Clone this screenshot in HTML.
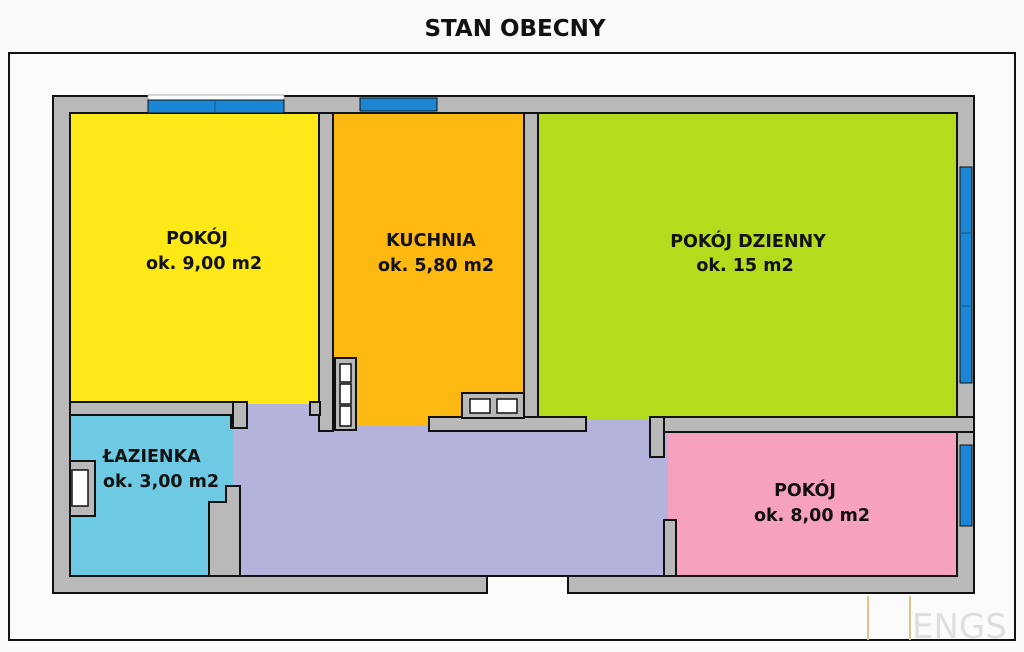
<!DOCTYPE html>
<html><head><meta charset="utf-8"><style>
html,body{margin:0;padding:0;background:#fafafa;width:1024px;height:652px;overflow:hidden}
svg{display:block}
text{font-family:"DejaVu Sans","Liberation Sans",sans-serif;font-weight:bold;fill:#111}
</style></head><body>
<svg width="1024" height="652" viewBox="0 0 1024 652">
<rect x="0" y="0" width="1024" height="652" fill="#fafafa"/>
<text x="515" y="36" font-size="23" text-anchor="middle">STAN  OBECNY</text>
<rect x="9" y="53" width="1006" height="587" fill="#fbfbfb" stroke="#111" stroke-width="2"/>
<rect x="53" y="96" width="921" height="497" fill="#b9b9b9" stroke="#111" stroke-width="2"/>
<rect x="231" y="402" width="433" height="174" fill="#b4b3dc" stroke="#111" stroke-width="2"/>
<rect x="70" y="113" width="249" height="289" fill="#fde918" stroke="#111" stroke-width="2"/>
<rect x="333" y="113" width="191" height="305" fill="#fbb912" stroke="#111" stroke-width="2"/>
<rect x="538" y="113" width="419" height="305" fill="#b5dc1c" stroke="#111" stroke-width="2"/>
<rect x="676" y="432" width="281" height="144" fill="#f6a1bd" stroke="#111" stroke-width="2"/>
<rect x="70" y="415" width="161" height="161" fill="#6ec9e2" stroke="#111" stroke-width="2"/>
<rect x="230" y="429" width="3" height="56" fill="#6ec9e2"/>
<rect x="248" y="399" width="61" height="8" fill="#fde918"/>
<rect x="248" y="404" width="61" height="4" fill="#b4b3dc"/>
<rect x="357" y="416" width="71" height="10" fill="#fbb912"/>
<rect x="586" y="416" width="63" height="4" fill="#b5dc1c"/>
<rect x="586" y="419" width="63" height="13" fill="#b4b3dc"/>
<rect x="662" y="433" width="20" height="86" fill="#f6a1bd"/>
<rect x="662" y="433" width="6" height="86" fill="#b4b3dc"/>
<rect x="319" y="113" width="14" height="318" fill="#b9b9b9" stroke="#111" stroke-width="2"/>
<rect x="310" y="402" width="10" height="13" fill="#b9b9b9" stroke="#111" stroke-width="2"/>
<rect x="524" y="113" width="14" height="305" fill="#b9b9b9" stroke="#111" stroke-width="2"/>
<rect x="429" y="417" width="157" height="14" fill="#b9b9b9" stroke="#111" stroke-width="2"/>
<rect x="70" y="402" width="177" height="13" fill="#b9b9b9" stroke="#111" stroke-width="2"/>
<rect x="233" y="402" width="14" height="26" fill="#b9b9b9" stroke="#111" stroke-width="2"/>
<rect x="71" y="403" width="160" height="11" fill="#b9b9b9"/>
<polygon points="226,486 240,486 240,576 209,576 209,502 226,502" fill="#b9b9b9" stroke="#111" stroke-width="2"/>
<rect x="650" y="417" width="324" height="15" fill="#b9b9b9" stroke="#111" stroke-width="2"/>
<rect x="650" y="417" width="14" height="40" fill="#b9b9b9" stroke="#111" stroke-width="2"/>
<rect x="664" y="520" width="12" height="56" fill="#b9b9b9" stroke="#111" stroke-width="2"/>
<rect x="957" y="418" width="16" height="13" fill="#b9b9b9"/>
<rect x="651" y="419" width="12" height="12" fill="#b9b9b9"/>
<rect x="335" y="358" width="21" height="72" fill="#b9b9b9" stroke="#111" stroke-width="2"/>
<rect x="340" y="364" width="11" height="18" fill="#fff" stroke="#111" stroke-width="1.5"/>
<rect x="340" y="384" width="11" height="20" fill="#fff" stroke="#111" stroke-width="1.5"/>
<rect x="340" y="406" width="11" height="20" fill="#fff" stroke="#111" stroke-width="1.5"/>
<rect x="462" y="393" width="62" height="25" fill="#b9b9b9" stroke="#111" stroke-width="2"/>
<rect x="470" y="399" width="20" height="14" fill="#fff" stroke="#111" stroke-width="1.5"/>
<rect x="497" y="399" width="20" height="14" fill="#fff" stroke="#111" stroke-width="1.5"/>
<rect x="70" y="461" width="25" height="55" fill="#b9b9b9" stroke="#111" stroke-width="2"/>
<rect x="72" y="470" width="16" height="36" fill="#fff" stroke="#111" stroke-width="1.5"/>
<rect x="148" y="95" width="136" height="5" fill="#fff" stroke="#999" stroke-width="0.8"/>
<rect x="148" y="100" width="136" height="13" fill="#1c86d4" stroke="#111" stroke-width="1"/>
<line x1="215" y1="100" x2="215" y2="113" stroke="#0a5a90" stroke-width="1"/>
<rect x="360" y="98" width="77" height="13" fill="#1c86d4" stroke="#111" stroke-width="1"/>
<rect x="960" y="167" width="12" height="216" fill="#1c86d4" stroke="#111" stroke-width="1"/>
<line x1="960" y1="233" x2="972" y2="233" stroke="#0a5a90"/>
<line x1="960" y1="306" x2="972" y2="306" stroke="#0a5a90"/>
<rect x="960" y="445" width="12" height="81" fill="#1c86d4" stroke="#111" stroke-width="1"/>
<rect x="487" y="577" width="81" height="18" fill="#fbfbfb"/>
<line x1="487" y1="576" x2="487" y2="594" stroke="#111" stroke-width="2"/>
<line x1="568" y1="576" x2="568" y2="594" stroke="#111" stroke-width="2"/>
<text font-size="17.5" text-anchor="middle"><tspan x="197" y="244">POKÓJ</tspan><tspan x="204" y="269">ok. 9,00 m2</tspan></text>
<text font-size="17.5" text-anchor="middle"><tspan x="431" y="246">KUCHNIA</tspan><tspan x="436" y="271">ok. 5,80 m2</tspan></text>
<text font-size="17.5" text-anchor="middle"><tspan x="748" y="247">POKÓJ DZIENNY</tspan><tspan x="745" y="271">ok. 15 m2</tspan></text>
<text font-size="17.5"><tspan x="103" y="462">ŁAZIENKA</tspan><tspan x="103" y="487">ok. 3,00 m2</tspan></text>
<text font-size="17.5" text-anchor="middle"><tspan x="805" y="496">POKÓJ</tspan><tspan x="812" y="521">ok. 8,00 m2</tspan></text>
<rect x="867" y="596" width="2" height="44" fill="#d8c48a"/>
<rect x="909" y="596" width="2" height="44" fill="#d8c48a"/>
<text x="912" y="638" font-size="34" style="fill:#dedede;font-weight:normal">ENGS</text>
</svg>
</body></html>
